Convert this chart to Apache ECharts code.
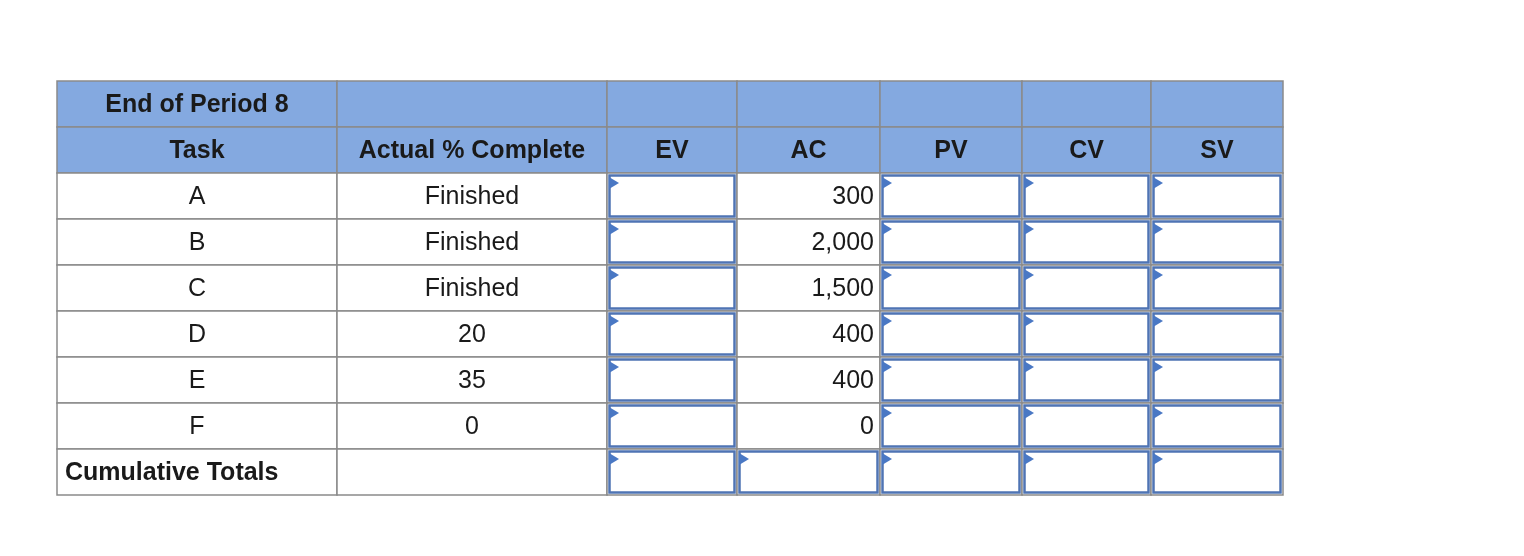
<!DOCTYPE html>
<html><head><meta charset="utf-8">
<script src="https://cdn.jsdelivr.net/npm/echarts@6/dist/echarts.min.js"></script>
<style>html,body{margin:0;background:#fff}#c{width:1524px;height:556px}</style>
</head><body><div id="c"></div>
<script>
const headerRow1 = ['End of Period 8', '', '', '', '', '', ''];
const headerRow2 = ['Task', 'Actual % Complete', 'EV', 'AC', 'PV', 'CV', 'SV'];
const tasks = ['A', 'B', 'C', 'D', 'E', 'F'];
const percentComplete = ['Finished', 'Finished', 'Finished', '20', '35', '0'];
const actualCost = ['300', '2,000', '1,500', '400', '400', '0'];
const totalsLabel = 'Cumulative Totals';
// column edges (layout, in pixels relative to table left)
const colEdges = [0, 280, 550, 680, 823, 965, 1094, 1226];

const cells = [];
headerRow1.forEach((t, c) => cells.push([c, 0, t, 'head']));
headerRow2.forEach((t, c) => cells.push([c, 1, t, 'head']));
tasks.forEach((t, i) => {
  const r = i + 2;
  cells.push([0, r, t, 'plain']);
  cells.push([1, r, percentComplete[i], 'plain']);
  cells.push([2, r, '', 'input']);
  cells.push([3, r, actualCost[i], 'right']);
  cells.push([4, r, '', 'input']);
  cells.push([5, r, '', 'input']);
  cells.push([6, r, '', 'input']);
});
cells.push([0, 8, totalsLabel, 'totals']);
cells.push([1, 8, '', 'plain']);
for (let c = 2; c <= 6; c++) cells.push([c, 8, '', 'input']);

const chart = echarts.init(document.getElementById('c'));
chart.setOption({
  animation: false,
  grid: { left: 57, top: 81, width: 1226, height: 414 },
  xAxis: { type: 'value', min: 0, max: 1226, show: false },
  yAxis: { type: 'value', min: 0, max: 9, inverse: true, show: false },
  series: [{
    type: 'custom',
    data: cells,
    renderItem: function (params, api) {
      const c = api.value(0), r = api.value(1);
      const d = cells[params.dataIndex];
      const p0 = api.coord([colEdges[c], r]);
      const p1 = api.coord([colEdges[c + 1], r + 1]);
      const x = p0[0], y = p0[1], w = p1[0] - p0[0], h = p1[1] - p0[1];
      const type = d[3], text = d[2];
      const kids = [{
        type: 'rect', shape: { x: x, y: y, width: w, height: h },
        style: { fill: type === 'head' ? '#84a9e0' : '#fff', stroke: '#8a8a8a', lineWidth: 1.5 }
      }];
      if (type === 'input') {
        kids.push({ type: 'rect', shape: { x: x + 2.5, y: y + 2.5, width: w - 5, height: h - 5 },
          style: { fill: 'none', stroke: '#4f74b4', lineWidth: 2.5 } });
        kids.push({ type: 'polygon', shape: { points: [[x + 2, y + 4], [x + 12, y + 10], [x + 2, y + 16]] },
          style: { fill: '#4a78c4' } });
      }
      if (text) {
        let tx = x + w / 2, align = 'center';
        if (type === 'right') { tx = x + w - 6; align = 'right'; }
        if (type === 'totals') { tx = x + 8; align = 'left'; }
        const bold = type === 'head' || type === 'totals';
        kids.push({ type: 'text', style: { text: text, x: tx, y: y + h / 2 + 1, align: align, verticalAlign: 'middle',
          fill: '#1a1a1a', font: (bold ? 'bold ' : '') + '25px "Liberation Sans", Arial, sans-serif' } });
      }
      return { type: 'group', children: kids };
    }
  }]
});
</script></body></html>
